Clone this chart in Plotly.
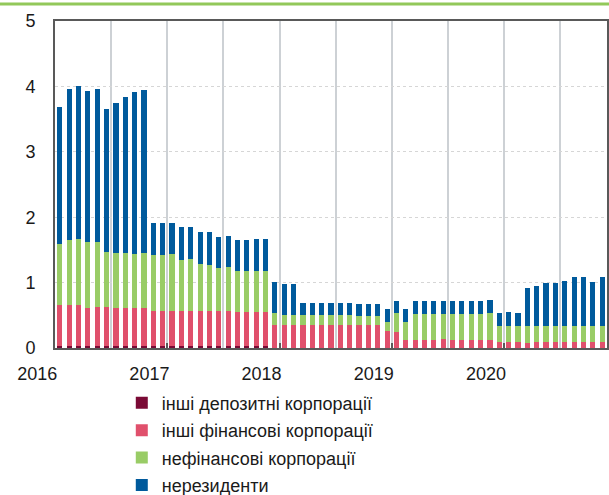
import plotly.graph_objects as go

# monthly observations (index 0 .. 58)
months = list(range(59))

# component values (stacked)
other_depository = [0.03] * 23 + [0.0] * 36
total = [3.68, 3.96, 4.00, 3.93, 3.96, 3.65, 3.74, 3.84, 3.91, 3.94,
         1.91, 1.91, 1.91, 1.85, 1.85, 1.77, 1.77, 1.69, 1.71, 1.65,
         1.65, 1.66, 1.66, 1.01, 0.98, 0.98, 0.69, 0.69, 0.69, 0.69,
         0.69, 0.69, 0.68, 0.68, 0.68, 0.59, 0.72, 0.60, 0.72, 0.72,
         0.72, 0.72, 0.72, 0.72, 0.72, 0.72, 0.73, 0.54, 0.55, 0.54,
         0.91, 0.95, 1.00, 0.99, 1.02, 1.09, 1.08, 1.01, 1.09]
green_top = [1.59, 1.65, 1.66, 1.62, 1.62, 1.47, 1.45, 1.45, 1.44, 1.46,
             1.42, 1.42, 1.43, 1.35, 1.36, 1.28, 1.27, 1.22, 1.24, 1.18,
             1.18, 1.18, 1.18, 0.54, 0.50, 0.50, 0.50, 0.50, 0.50, 0.50,
             0.50, 0.50, 0.49, 0.49, 0.49, 0.40, 0.53, 0.40, 0.52, 0.52,
             0.52, 0.52, 0.52, 0.52, 0.52, 0.52, 0.53, 0.33, 0.33, 0.33,
             0.33, 0.33, 0.33, 0.33, 0.33, 0.33, 0.33, 0.33, 0.33]
pink_top = [0.65, 0.65, 0.65, 0.61, 0.62, 0.62, 0.61, 0.61, 0.61, 0.61,
            0.56, 0.56, 0.56, 0.56, 0.56, 0.56, 0.56, 0.56, 0.56, 0.55,
            0.55, 0.55, 0.55, 0.35, 0.35, 0.35, 0.35, 0.35, 0.35, 0.35,
            0.35, 0.35, 0.35, 0.35, 0.35, 0.26, 0.25, 0.13, 0.13, 0.13,
            0.13, 0.14, 0.13, 0.13, 0.13, 0.13, 0.13, 0.09, 0.09, 0.09,
            0.08, 0.09, 0.09, 0.09, 0.09, 0.09, 0.09, 0.09, 0.09]

other_financial = [round(p - m, 3) for p, m in zip(pink_top, other_depository)]
nonfinancial = [round(g - p, 3) for g, p in zip(green_top, pink_top)]
nonresidents = [round(t - g, 3) for t, g in zip(total, green_top)]

series_names = ["інші депозитні корпорації", "інші фінансові корпорації",
                "нефінансові корпорації", "нерезиденти"]
series_values = [other_depository, other_financial, nonfinancial, nonresidents]
series_colors = ["#7a0a35", "#e0506c", "#99cc66", "#005a9c"]

year_ticks = [-0.5, 11.5, 23.5, 35.5, 47.5]
year_labels = ["2016", "2017", "2018", "2019", "2020"]

FONT = "Liberation Sans, Arial, sans-serif"

fig = go.Figure()
for i, (name, vals, col) in enumerate(zip(series_names, series_values, series_colors)):
    fig.add_trace(go.Bar(x=months, y=vals, name=name, marker_color=col,
                         marker_line_width=0, legendgroup=f"g{i}"))

fig.update_layout(
    width=609, height=495,
    barmode="stack", bargap=0.45,
    margin=dict(l=55, r=2, t=21, b=147, autoexpand=False),
    paper_bgcolor="white", plot_bgcolor="white",
    font=dict(family=FONT, size=18, color="#1a1a1a"),
    showlegend=True,
    legend=dict(x=0.121, y=-0.112, xanchor="left", yanchor="top",
                traceorder="grouped", tracegroupgap=1,
                font=dict(size=18, family=FONT, color="#1a1a1a"),
                bgcolor="rgba(0,0,0,0)"),
    xaxis=dict(range=[-0.52, 58.52], tickvals=year_ticks, ticktext=year_labels,
               ticks="inside", ticklen=5, tickwidth=2, tickcolor="#595959",
               ticklabelshift=-18, ticklabelstandoff=8,
               showgrid=True, gridcolor="#cdd1d5", gridwidth=1.5,
               minor=dict(dtick=6, tick0=-0.5, showgrid=True, gridcolor="#cdd1d5",
                          gridwidth=1.5),
               showline=True, linecolor="#595959", linewidth=2, mirror=True,
               zeroline=False, automargin=False, tickfont=dict(size=18)),
    yaxis=dict(range=[0, 5], tickvals=[0, 1, 2, 3, 4, 5],
               showgrid=True, gridcolor="#d6d6d6", griddash="dot", gridwidth=1,
               showline=True, linecolor="#595959", linewidth=2, mirror=True,
               zeroline=False, ticks="", ticklabelstandoff=14, automargin=False,
               tickfont=dict(size=18)),
    shapes=[dict(type="line", xref="paper", yref="paper", x0=-0.2, x1=1.2,
                 y0=1.052, y1=1.052, line=dict(color="#92c85a", width=3))],
)

fig.write_html("out.html", config={"displayModeBar": False},
               post_script="document.body.style.margin='0px';")
